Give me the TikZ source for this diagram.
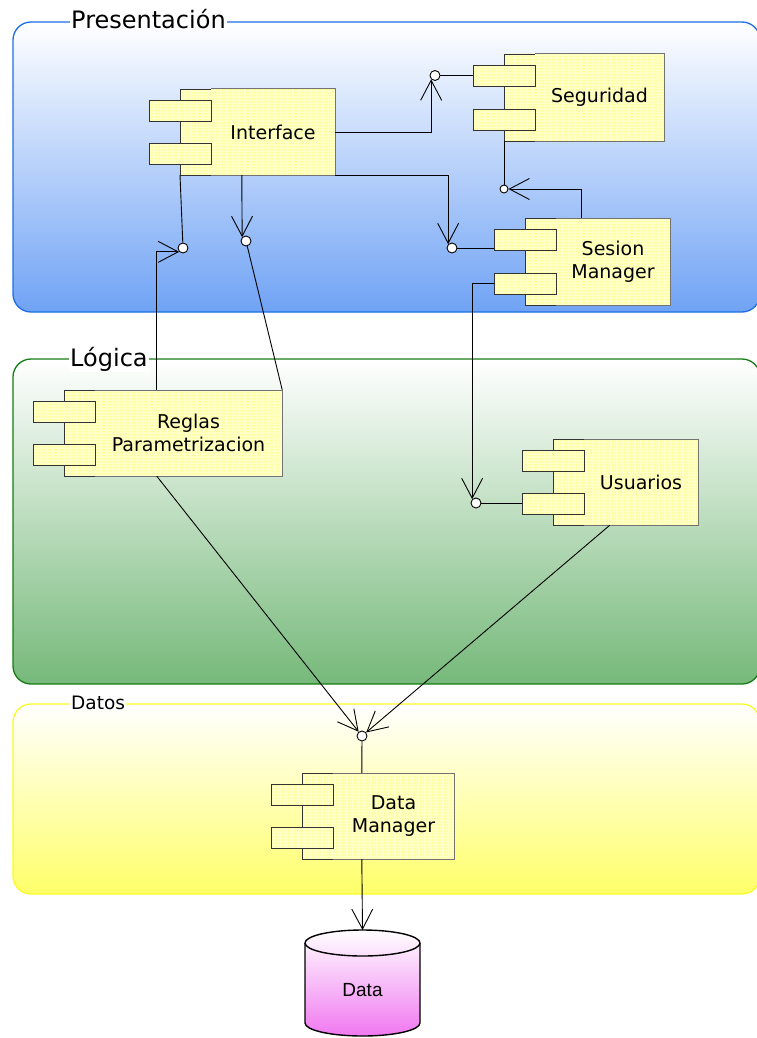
\documentclass[tikz,border=0pt]{standalone}
\usepackage{fontspec}
\setmainfont{DejaVu Sans}
\newfontfamily\arialfont{Liberation Sans}
\usetikzlibrary{arrows.meta,patterns,calc}

\definecolor{presB}{RGB}{30,110,230}
\definecolor{presF}{RGB}{112,163,245}
\definecolor{logB}{RGB}{20,125,20}
\definecolor{logF}{RGB}{118,185,122}
\definecolor{datB}{RGB}{250,250,40}
\definecolor{datF}{RGB}{255,255,105}
\definecolor{cylF}{RGB}{240,120,240}
\definecolor{compBase}{RGB}{255,255,200}

\tikzset{
  region/.style={rounded corners=18pt, line width=1.3pt},
  regtitle/.style={fill=white, inner sep=1pt, anchor=base west},
  compfill/.style={preaction={fill=compBase}, pattern=dots, pattern color=yellow},
  compmain/.style={compfill, inner sep=0pt, align=center, font=\fontsize{19}{23}\selectfont},
  compline/.style={draw=black!80, line width=0.9pt},
  compedge/.style={draw=black!55, line width=0.6pt},
  comptab/.style={compfill, draw=black!80, line width=0.9pt},
  lolli/.style={circle, draw=black, fill=white, line width=0.9pt, inner sep=0pt, minimum size=10pt},
  conn/.style={draw=black, line width=0.9pt},
  dep/.style={conn, -{Straight Barb[length=20pt,width=21pt,line width=0.9pt]}},
}

\newcommand\umlcomp[6]{% name, xmain, xright, ytop, ybot, text
  \fill[compfill] (#2-31,#4) rectangle (#2,#5);
  \draw[compline] (#2,#4) -- (#2-31,#4) -- (#2-31,#5) -- (#2,#5);
  \node[compmain, minimum width={(#3-#2)*1pt}, minimum height={(#5-#4)*1pt}] (#1) at ({(#2+#3)/2},{(#4+#5)/2}) {#6};
  \draw[compedge] (#1.north west) -- (#1.north east) -- (#1.south east) -- (#1.south west);
  \draw[comptab] (#2-62,#4+11) rectangle (#2,#4+32);
  \draw[comptab] (#2-62,#5-32) rectangle (#2,#5-11);
  \coordinate (#1-t1) at (#2-62,#4+21.5);
  \coordinate (#1-t2) at (#2-62,#5-21.5);
  \coordinate (#1-bb) at (#2-31,#5);
}

\begin{document}
\begin{tikzpicture}[x=1pt,y=-1pt]
\useasboundingbox (0,0) rectangle (757,1038);

% regions
\draw[region, draw=presB, top color=white, bottom color=presF] (13,22) rectangle (760,312);
\node[regtitle, font=\fontsize{24}{28}\selectfont] (tPres) at (70,29) {Presentación};
\draw[region, draw=logB, top color=white, bottom color=logF] (13,359) rectangle (760,684);
\node[regtitle, font=\fontsize{24}{28}\selectfont] (tLog) at (69,366) {Lógica};
\draw[region, draw=datB, top color=white, bottom color=datF] (13,704) rectangle (760,894);
\node[regtitle, font=\fontsize{18.5}{22}\selectfont] (tDat) at (70,709) {Datos};

% components
\umlcomp{iface}{211}{335}{89}{175}{Interface}
\umlcomp{segur}{535}{664}{54}{141}{Seguridad}
\umlcomp{sesion}{556}{670}{218}{305}{Sesion\\Manager}
\umlcomp{reglas}{95}{282}{390}{476}{Reglas\\Parametrizacion}
\umlcomp{usuarios}{584}{698}{439}{525}{Usuarios}
\umlcomp{datamgr}{333}{454}{773}{859}{Data\\Manager}

% database cylinder
\draw[line width=1.4pt, top color=white, bottom color=cylF]
  (305,943) -- (305,1023) arc[start angle=180, end angle=0, x radius=57.5, y radius=13]
  -- (420,943) arc[start angle=0, end angle=-180, x radius=57.5, y radius=13] -- cycle;
\draw[line width=1.4pt] (305,943) arc[start angle=180, end angle=0, x radius=57.5, y radius=13];
\coordinate (datatop) at (362.5,930);
\node[font=\arialfont\fontsize{19}{22}\selectfont] (data) at (362.5,990) {Data};

% lollipops (provided interfaces)
\node[lolli] (lpSeg) at (435,75.5) {};
\node[lolli, minimum size=8pt] (lpSegB) at (504,189) {};
\node[lolli] (lpSes) at (452,248) {};
\node[lolli] (lpIfc) at (183,248) {};
\node[lolli] (lpReg) at (246,241) {};
\node[lolli] (lpUsr) at (476,503) {};
\node[lolli] (lpDM) at (362,736) {};

% connectors
\draw[conn] (lpSeg) -- (segur-t1);
\draw[dep] (iface.east) -| (lpSeg.south west);
\draw[dep] (iface.south east) -| (lpSes.north west);
\draw[conn] (lpSes) -- (lpSes -| sesion-t1);
\draw[conn] (segur-bb) -- (lpSegB);
\draw[dep] ([xshift=26pt]sesion.north west) |- (lpSegB.east);
\draw[conn] (iface-bb) -- (lpIfc);
\draw[dep] ([xshift=62pt]reglas.north west) |- (lpIfc.south west);
\draw[dep] ([xshift=31pt]iface.south west) -- (lpReg.north west);
\draw[conn] (lpReg) -- (reglas.north east);
\draw[dep] (sesion-t2) -| (lpUsr.north west);
\draw[conn] (lpUsr) -- (lpUsr -| usuarios-t2);
\draw[dep] ([xshift=62pt]reglas.south west) -- (lpDM);
\draw[dep] ([xshift=26pt]usuarios.south west) -- (lpDM);
\draw[conn] (lpDM) -- ([xshift=29pt]datamgr.north west);
\draw[dep] ([xshift=29pt]datamgr.south west) -- (datatop);
\end{tikzpicture}
\end{document}
